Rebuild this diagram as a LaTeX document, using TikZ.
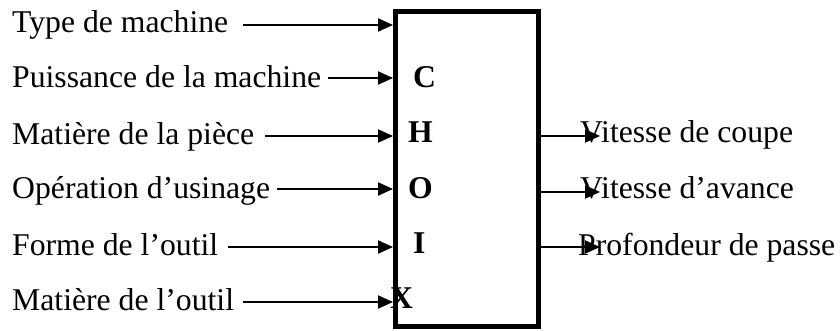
\documentclass[tikz,border=0pt]{standalone}
\usepackage{fontspec}
\setmainfont{Liberation Serif}
\usetikzlibrary{arrows.meta}
\begin{document}
\begin{tikzpicture}[x=1pt,y=-1pt,
  font=\fontsize{31.7}{36}\selectfont,
  lbl/.style={anchor=base west, inner sep=0pt},
  letter/.style={anchor=base west, inner sep=0pt, font=\fontsize{31.7}{36}\selectfont\bfseries},
  arr/.style={line width=2pt, -{Triangle[length=15pt,width=13pt]}},
  blk/.style={draw, line width=5pt, minimum width=142.5pt, minimum height=314.5pt, inner sep=0pt}]
\useasboundingbox (0,0) rectangle (840,331);
\node[blk] (box) at (466.75,168.75) {};
% left labels
\node[lbl] (t1) at (12,33) {Type de machine};
\node[lbl] (t2) at (12,88) {Puissance de la machine};
\node[lbl] (t3) at (12,145) {Matière de la pièce};
\node[lbl] (t4) at (12,198) {Opération d’usinage};
\node[lbl] (t5) at (12,255) {Forme de l’outil};
\node[lbl] (t6) at (12,310) {Matière de l’outil};
\coordinate (s1) at (243,25);
\coordinate (s2) at (328,78);
\coordinate (s3) at (265,136);
\coordinate (s4) at (277,189);
\coordinate (s5) at (228,247);
\coordinate (s6) at (243,302);
% letters
\node[letter] (lc) at (413,88) {C};
\node[letter] (lh) at (408,143) {H};
\node[letter] (lo) at (408,198) {O};
\node[letter] (li) at (413,253) {I};
\node[letter] (lx) at (390,308) {X};
% right labels
\node[lbl] (r1) at (580,143) {Vitesse de coupe};
\node[lbl] (r2) at (580,199) {Vitesse d’avance};
\node[lbl] (r3) at (578,255) {Profondeur de passe};
\coordinate (o1) at (600,136);
\coordinate (o2) at (600,192);
\coordinate (o3) at (600,247);
% arrows
\foreach \s in {s1,s2,s3,s4,s5,s6}
  \draw[arr] (\s) -- (\s -| box.west);
\foreach \o in {o1,o2,o3}
  \draw[arr] (\o -| box.east) -- (\o);
\end{tikzpicture}
\end{document}
